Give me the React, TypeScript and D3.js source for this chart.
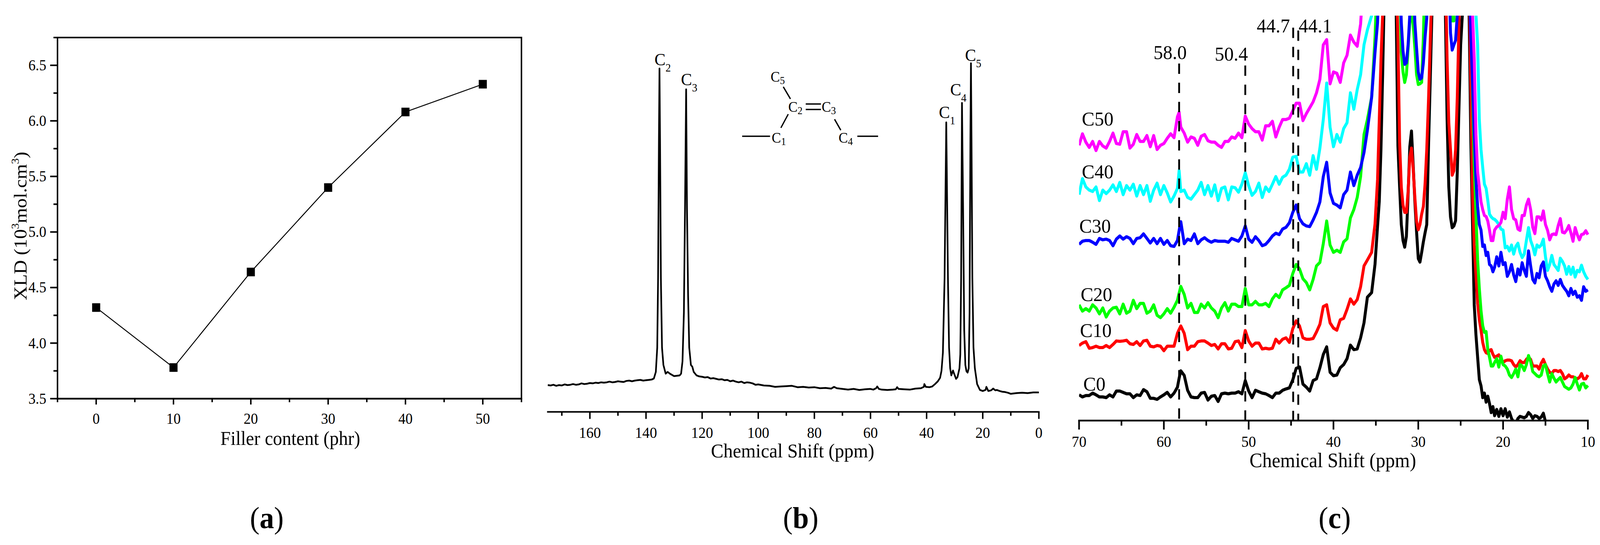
import React from "react";
import * as d3 from "d3";

// ---------- panel (a) ----------
const fillerContent = [0, 10, 20, 30, 40, 50];
const xld = [4.32, 3.78, 4.64, 5.4, 6.08, 6.33];
const aXMajor = [0, 10, 20, 30, 40, 50];
const aXMinor = [-5, 5, 15, 25, 35, 45, 55];
const aYMajor = [3.5, 4, 4.5, 5, 5.5, 6, 6.5];
const aYMinor = [3.75, 4.25, 4.75, 5.25, 5.75, 6.25, 6.75];

// ---------- panel (b) ----------
const ppmB = [
  175,174,173,172,171,170,169,168,167,166,165,164,163,162,161,160,159,158,157,156,155,154,153,152,151,150,149,148,147,146,145,144,143,142,141,140,139,138,137.2,
  136.5,136,135.7,135.4,135.2,135,134.7,134.3,133.8,133,132.3,131.5,130,128,127.5,127,126.5,126.1,125.7,125.4,125,124.6,124,123.5,123,
  122,121,120,119,118,117,116,115,114,113,112,111,110,109,108,107,106,105,104,103,102,101,100,98,96,94,92,90,88,86,84,82,80,78,76,74,73,72,70,68,66,64,62,60,59,58,57.6,57,56,54,52,51,50.5,50,48,46,44,42,41,40.8,40.3,39,38,37,36,35.2,34.7,
  34.2,33.6,33.2,33,32.8,32.4,32,31.6,31.2,30.6,30.2,29.5,29,28.3,28,27.7,27.4,27,26.6,26.2,25.8,25.4,25,24.7,24.4,24.2,24,23.7,23.3,22.8,22,21,20,19,18.7,18,17,16.3,15.5,15,14,13,12,11,10,8,6,4,2,0,
];
const signalB = [
  77,76,78,75,77,76,79,77,78,80,78,79,82,80,81,83,82,84,83,85,84,85,87,85,86,88,87,86,89,90,88,90,91,92,90,91,92,93,96,
  115,185,385,785,988,785,385,185,135,110,115,110,103,105,110,145,285,585,928,585,335,185,135,130,115,
  105,102,101,99,100,96,97,95,93,94,91,92,88,90,87,85,87,83,85,84,82,78,79,76,75,72,73,74,75,71,72,70,71,68,69,67,72,68,66,64,66,63,65,66,64,68,73,66,64,63,64,65,71,66,65,64,67,68,72,80,72,71,73,80,88,98,118,
  170,385,685,833,685,385,185,125,105,119,110,95,100,125,165,385,889,585,235,135,117,113,125,285,785,1003,785,385,185,125,80,63,60,63,72,60,62,67,62,63,60,58,57,55,52,54,55,54,56,56,
];
const bXMajor = [160, 140, 120, 100, 80, 60, 40, 20, 0];
const bXMinor = [170, 150, 130, 110, 90, 70, 50, 30, 10];

// ---------- panel (c) ----------
const ppmC = [
  70,69.6,69.2,68.8,68.4,68,67.6,67.2,66.8,66.4,
  66,65.6,65.2,64.8,64.4,64,63.6,63.2,62.8,62.4,
  62,61.6,61.2,60.8,60.4,60,59.6,59.2,58.8,58.4,
  58.2,58,57.6,57.2,56.8,56.4,56,55.6,55.2,54.8,
  54.4,54,53.6,53.2,52.8,52.4,52,51.6,51.2,50.8,
  50.4,50,49.6,49.2,48.8,48.4,48,47.6,47.2,46.8,
  46.4,46,45.6,45.2,44.8,44.4,44,43.6,43.2,42.8,
  42.4,42,41.6,41.2,40.8,40.4,40,39.6,39.2,38.8,
  38.4,38,37.6,37.2,36.8,36.4,36,35.5,35.1,34.8,
  34.6,34.4,34.2,34,33.5,33,32.6,32.4,32.2,32,
  31.8,31.6,31.4,31.2,31,30.8,30.6,30.4,30.2,30,
  29.8,29.6,29.4,29.2,29,28.8,28.6,28.4,28.2,28,
  27.5,27,26.8,26.6,26.4,26.2,26,25.8,25.6,25.4,
  25.2,25,24.5,24,23.8,23.6,23.4,23.2,23,22.8,
  22.6,22.4,22.2,22,21.8,21.6,21.4,21.2,21,20.75,
  20.5,20.25,20,19.75,19.5,19.25,19,18.75,18.5,18.25,
  18,17.75,17.5,17.25,17,16.75,16.5,16.25,16,15.75,
  15.5,15.25,15,14.75,14.5,14.25,14,13.75,13.5,13.25,
  13,12.75,12.5,12.25,12,11.75,11.5,11.25,11,10.75,
  10.5,10.25,10,
];
const C0 = [
  74,68,72,72,79,74,68,68,66,74,
  68,85,85,81,77,77,66,74,72,89,
  83,64,64,61,68,74,81,68,79,96,
  122,143,130,87,68,66,66,79,81,59,
  70,72,55,77,79,77,79,79,83,77,
  115,85,66,87,83,79,77,72,66,79,
  79,87,91,94,117,150,154,105,96,85,
  115,120,152,190,212,139,129,131,152,161,
  178,217,204,206,238,281,355,368,450,560,
  630,780,995,1240,1300,1300,1170,790,672,564,
  518,499,530,650,788,833,736,629,543,466,
  456,484,514,540,564,780,969,1163,1300,1300,
  1300,1280,1170,866,672,586,555,560,575,715,
  900,1081,1300,1165,800,565,333,247,182,118,
  100,66,79,53,70,49,23,40,14,32,
  12,34,14,34,10,25,6,-5,-10,6,
  12,10,8,12,23,17,6,14,12,6,
  10,21,-3,null,null,null,null,null,null,null,
  null,null,null,null,null,null,null,null,null,null,
  null,null,null,
];
const C10 = [
  216,223,227,208,210,214,210,210,216,210,
  219,229,228,229,231,221,219,227,216,229,
  231,214,212,216,214,201,214,214,214,251,
  262,272,251,204,214,214,227,229,229,223,
  216,219,206,221,221,206,208,227,229,210,
  259,229,214,223,223,206,208,206,208,234,
  223,234,238,225,264,287,272,238,234,234,
  236,255,277,328,333,281,266,260,290,294,
  320,350,335,348,385,445,462,484,566,694,
  865,1038,1170,1300,1300,1300,1300,1100,801,672,
  620,599,599,659,758,784,724,642,573,549,
  564,594,616,680,780,917,1081,1240,1300,1300,
  1300,1300,1300,1038,857,780,706,719,780,930,
  1145,1300,1300,1300,952,650,505,419,337,290,
  260,225,204,195,193,202,204,191,182,185,
  189,178,167,172,174,174,172,161,154,161,
  172,167,167,176,182,176,157,157,157,148,
  165,176,161,148,139,135,144,144,141,144,
  135,120,124,131,126,126,122,120,124,135,
  120,120,131,
];
const C20 = [
  333,315,322,315,333,324,307,324,298,315,
  324,326,307,335,309,315,346,322,337,337,
  309,315,333,303,296,307,322,309,326,346,
  367,386,363,324,337,311,311,335,324,339,
  324,315,296,324,339,315,335,335,328,328,
  380,333,333,343,333,333,337,328,350,363,
  354,376,382,389,423,449,436,408,397,376,
  406,445,455,509,574,505,484,490,484,514,
  523,583,607,642,702,823,866,930,1102,1300,
  1300,1300,1300,1300,1300,1300,1300,1300,1300,1059,
  1003,973,995,1068,1145,1180,1137,1072,995,967,
  969,973,1102,1300,1300,1300,1300,1300,1300,1300,
  1300,1300,1300,1300,1300,1250,1150,1150,1250,1300,
  1300,1300,1300,1300,1250,952,737,591,462,380,
  316,273,254,256,204,182,157,157,167,178,
  154,185,161,157,148,131,124,135,148,126,
  161,157,144,161,187,170,141,135,129,126,
  131,157,161,135,111,135,122,111,118,124,
  111,98,94,90,94,105,124,105,88,105,
  107,94,101,
];
const C30 = [
  507,516,518,518,513,507,524,520,522,518,
  503,522,531,522,529,524,509,524,526,537,
  524,511,524,509,524,507,518,503,501,518,
  547,572,509,522,518,537,509,520,526,518,
  513,518,516,516,516,513,524,520,516,531,
  560,522,513,529,518,503,507,518,531,539,
  535,551,556,569,599,620,581,566,560,558,
  577,599,629,702,743,655,625,620,612,650,
  663,715,676,706,728,771,835,930,1059,1145,
  1300,1300,1300,1300,1300,1300,1300,1300,1300,1145,
  1064,1025,1029,1081,1167,1300,1300,1145,1072,1003,
  982,986,1029,1102,1158,1300,1300,1300,1300,1300,
  1300,1300,1300,1300,1300,1115,1066,1081,1094,1167,
  1300,1300,1300,1300,1100,973,822,693,616,564,
  548,501,505,475,484,449,445,428,441,471,
  445,484,449,454,415,428,449,419,400,436,
  419,454,432,415,488,445,406,396,423,411,
  445,456,415,402,385,372,393,402,389,406,
  389,380,372,359,380,363,372,355,359,346,
  385,372,376,
];
const C40 = [
  650,696,672,663,659,672,633,663,653,663,
  678,659,685,650,676,663,680,646,676,650,
  676,631,663,683,650,676,655,629,646,668,
  719,659,663,642,637,650,663,685,650,676,
  646,678,633,668,672,635,672,670,657,680,
  713,676,648,659,683,642,672,659,680,702,
  680,700,706,723,758,760,715,715,739,706,
  762,723,784,866,971,844,788,823,801,840,
  857,943,896,952,995,1081,1124,1165,1300,1300,
  1300,1300,1300,1300,1300,1300,1300,1300,1300,1300,
  1300,1300,1300,1300,1300,1300,1300,1300,1300,1300,
  1300,1300,1300,1300,1300,1300,1300,1300,1300,1300,
  1300,1300,1300,1300,1300,1300,1300,1300,1300,1300,
  1300,1300,1300,1300,1300,1300,1300,1170,1081,866,
  780,728,680,668,633,594,586,581,579,573,
  564,551,548,497,501,488,505,479,501,510,
  484,469,479,518,555,518,501,477,505,499,
  505,522,471,432,449,475,449,441,432,467,
  458,445,421,443,421,441,413,432,428,447,
  428,415,406,
];
const C50 = [
  792,825,801,786,803,777,803,790,784,803,
  827,797,795,831,831,784,795,823,803,803,
  820,788,820,780,792,797,812,825,814,874,
  887,844,827,801,816,812,792,818,823,805,
  801,801,792,786,803,803,816,812,827,814,
  876,853,840,831,831,807,848,848,861,816,
  844,866,866,870,891,913,913,863,883,900,
  917,943,982,1081,1096,969,1003,999,973,1029,
  1051,1109,1089,1077,1141,1300,1300,1300,1300,1300,
  1300,1300,1300,1300,1300,1300,1300,1300,1300,1300,
  1300,1300,1300,1300,1300,1300,1300,1300,1300,1300,
  1300,1300,1300,1300,1300,1300,1300,1300,1300,1300,
  1300,1300,1300,1300,1300,1300,1300,1300,1300,1300,
  1300,1300,1300,1300,1300,1170,1038,822,715,672,
  629,607,590,587,574,548,518,518,548,557,
  561,570,599,581,637,672,607,581,577,551,
  547,590,590,620,637,607,556,538,586,586,
  577,603,564,547,520,535,537,535,561,581,
  542,540,548,561,540,516,555,535,520,535,
  537,546,535,
];
const cXMajor = [70, 60, 50, 40, 30, 20, 10];
const cXMinor = [65, 55, 45, 35, 25, 15];
const peakPositions = [58.2, 50.4, 44.75, 44.15];

const FONT = "'Liberation Serif', 'Times New Roman', serif";

const sx = d3.scaleLinear().domain([-5, 55]).range([156.5, 1419]);
const sy = d3.scaleLinear().domain([3.5, 6.75]).range([1019.7, 96]);
const bx = d3.scaleLinear().domain([175, 0]).range([1490.7, 2827]);
const by = d3.scaleLinear().domain([0, 1185]).range([1053.5, 0]);
const cx = d3.scaleLinear().domain([70, 10]).range([2936.4, 4321]);
const cy = d3.scaleLinear().domain([0, 1210]).range([1075.7, 0]);

const lineA = d3.line<number>().x((_, i) => sx(fillerContent[i])).y((d) => sy(d));
const lineB = d3.line<number>().x((_, i) => bx(ppmB[i])).y((d) => by(d));
const lineC = d3
  .line<number | null>()
  .defined((d) => d !== null)
  .x((_, i) => cx(ppmC[i]))
  .y((d) => cy(d as number));

const cSeries: [(number | null)[], string][] = [
  [C0, "#000000"],
  [C10, "#ff0000"],
  [C20, "#00ff00"],
  [C40, "#00ffff"],
  [C30, "#0000ff"],
  [C50, "#ff00ff"],
];

function Sub({ x, y, sub, size = 45, subSize = 29, dy = 16 }: any) {
  return (
    <text x={x} y={y} fontSize={size}>
      C
      <tspan fontSize={subSize} dy={dy}>
        {sub}
      </tspan>
    </text>
  );
}

function Caption({ x, letter }: { x: number; letter: string }) {
  return (
    <text x={x} y={1351} fontSize={79} textAnchor="middle">
      (<tspan fontWeight="bold">{letter}</tspan>)
    </text>
  );
}

function XAxis({ scale, y, major, minor, yLabel, yTitle, xTitle, title, majorLen, minorLen, width, fontSize, titleSize }: any) {
  const [r0, r1] = scale.range();
  return (
    <g>
      <line x1={r0 - width / 2} x2={r1 + width / 2} y1={y} y2={y} stroke="#000" strokeWidth={width} />
      {major.map((t: number) => (
        <g key={t}>
          <line x1={scale(t)} x2={scale(t)} y1={y} y2={y + majorLen} stroke="#000" strokeWidth={width} />
          <text x={scale(t)} y={yLabel} fontSize={fontSize} textAnchor="middle">
            {t}
          </text>
        </g>
      ))}
      {minor.map((t: number) => (
        <line key={t} x1={scale(t)} x2={scale(t)} y1={y} y2={y + minorLen} stroke="#000" strokeWidth={width} />
      ))}
      <text x={xTitle} y={yTitle} fontSize={titleSize} textAnchor="middle">
        {title}
      </text>
    </g>
  );
}

export default function App() {
  const clipTop = 40;
  return (
    <svg
      viewBox="0 0 4354 1394"
      preserveAspectRatio="none"
      style={{ position: "fixed", left: 0, top: 0, width: "100vw", height: "100vh", background: "#fff", display: "block" }}
      fontFamily={FONT}
      fill="#000"
    >
      <defs>
        <clipPath id="clipC">
          <rect x={cx(70)} y={clipTop} width={cx(10) - cx(70) + 4} height={cy(0) - clipTop} />
        </clipPath>
      </defs>

      {/* (a) */}
      <rect x={sx(-5)} y={sy(6.75)} width={sx(55) - sx(-5)} height={sy(3.5) - sy(6.75)} fill="none" stroke="#000" strokeWidth={4} />
      {aYMajor.map((t) => (
        <g key={t}>
          <line x1={sx(-5) - 20} x2={sx(-5)} y1={sy(t)} y2={sy(t)} stroke="#000" strokeWidth={4} />
          <text x={126} y={sy(t) + 13} fontSize={39} textAnchor="end">
            {t.toFixed(1)}
          </text>
        </g>
      ))}
      {aYMinor.map((t) => (
        <line key={t} x1={sx(-5) - 11} x2={sx(-5)} y1={sy(t)} y2={sy(t)} stroke="#000" strokeWidth={4} />
      ))}
      <XAxis scale={sx} y={sy(3.5)} major={aXMajor} minor={aXMinor} yLabel={1084} yTitle={1138} xTitle={790} title="Filler content (phr)" majorLen={15} minorLen={9} width={4} fontSize={39} titleSize={50} />
      <path d={lineA(xld) as string} fill="none" stroke="#000" strokeWidth={2.5} />
      {xld.map((v, i) => (
        <rect key={i} x={sx(fillerContent[i]) - 11} y={sy(v) - 11} width={22} height={22} fill="#000" />
      ))}
      <text transform="translate(72,578) rotate(-90)" fontSize={50} textAnchor="middle">
        XLD (10
        <tspan fontSize={30} dy={-21}>3</tspan>
        <tspan dy={21}>mol.cm</tspan>
        <tspan fontSize={30} dy={-21}>3</tspan>
        <tspan dy={21}>)</tspan>
      </text>
      <Caption x={726} letter="a" />

      {/* (b) */}
      <path d={lineB(signalB) as string} fill="none" stroke="#000" strokeWidth={4.5} strokeLinejoin="round" />
      <XAxis scale={bx} y={by(0)} major={bXMajor} minor={bXMinor} yLabel={1120} yTitle={1170} xTitle={2157} title="Chemical Shift (ppm)" majorLen={18} minorLen={10} width={4} fontSize={40} titleSize={51} />
      <Sub x={1781} y={167} sub="2" />
      <Sub x={1853} y={218} sub="3" />
      <Sub x={2555} y={302} sub="1" />
      <Sub x={2585.6} y={244.5} sub="4" />
      <Sub x={2626} y={155.6} sub="5" />
      <Sub x={2097} y={209} sub="5" size={38} subSize={27} dy={6} />
      <Sub x={2145} y={286} sub="2" size={38} subSize={27} dy={6} />
      <Sub x={2236} y={286} sub="3" size={38} subSize={27} dy={6} />
      <Sub x={2100} y={365} sub="1" size={38} subSize={27} dy={6} />
      <Sub x={2282} y={365} sub="4" size={38} subSize={27} dy={6} />
      <g stroke="#000" strokeWidth={3.5}>
        <line x1={2131.5} y1={222} x2={2151} y2={253} />
        <line x1={2145} y1={292} x2={2125} y2={327} />
        <line x1={2192.6} y1={266} x2={2234} y2={266} />
        <line x1={2192.6} y1={280} x2={2234} y2={280} />
        <line x1={2271} y1={305} x2={2288} y2={333} />
        <line x1={2019.6} y1={348.5} x2={2095.5} y2={348.5} />
        <line x1={2333} y1={348.5} x2={2389.5} y2={348.5} />
      </g>
      <Caption x={2179} letter="b" />

      {/* (c) */}
      <g clipPath="url(#clipC)">
        {cSeries.map(([vals, color]) => (
          <path key={color} d={lineC(vals) as string} fill="none" stroke={color} strokeWidth={8} strokeLinejoin="round" />
        ))}
      </g>
      {peakPositions.map((p, i) => (
        <line
          key={p}
          x1={cx(p)}
          x2={cx(p)}
          y1={[162.6, 167.6, 70.8, 78][i]}
          y2={cy(0)}
          stroke="#000"
          strokeWidth={5}
          strokeDasharray="26.5 22.5"
        />
      ))}
      <XAxis scale={cx} y={cy(0)} major={cXMajor} minor={cXMinor} yLabel={1143} yTitle={1195} xTitle={3627} title="Chemical Shift (ppm)" majorLen={23} minorLen={13} width={4.5} fontSize={40} titleSize={52} />
      <g fontSize={51.6}>
        <text x={2944} y={320.7}>C50</text>
        <text x={2944} y={456}>C40</text>
        <text x={2937} y={595.5}>C30</text>
        <text x={2940.7} y={770}>C20</text>
        <text x={2939} y={862}>C10</text>
        <text x={2948} y={999}>C0</text>
        <text x={3139} y={151}>58.0</text>
        <text x={3305.7} y={155}>50.4</text>
        <text x={3420} y={83.4}>44.7</text>
        <text x={3534} y={83.4}>44.1</text>
      </g>
      <Caption x={3632} letter="c" />
    </svg>
  );
}
